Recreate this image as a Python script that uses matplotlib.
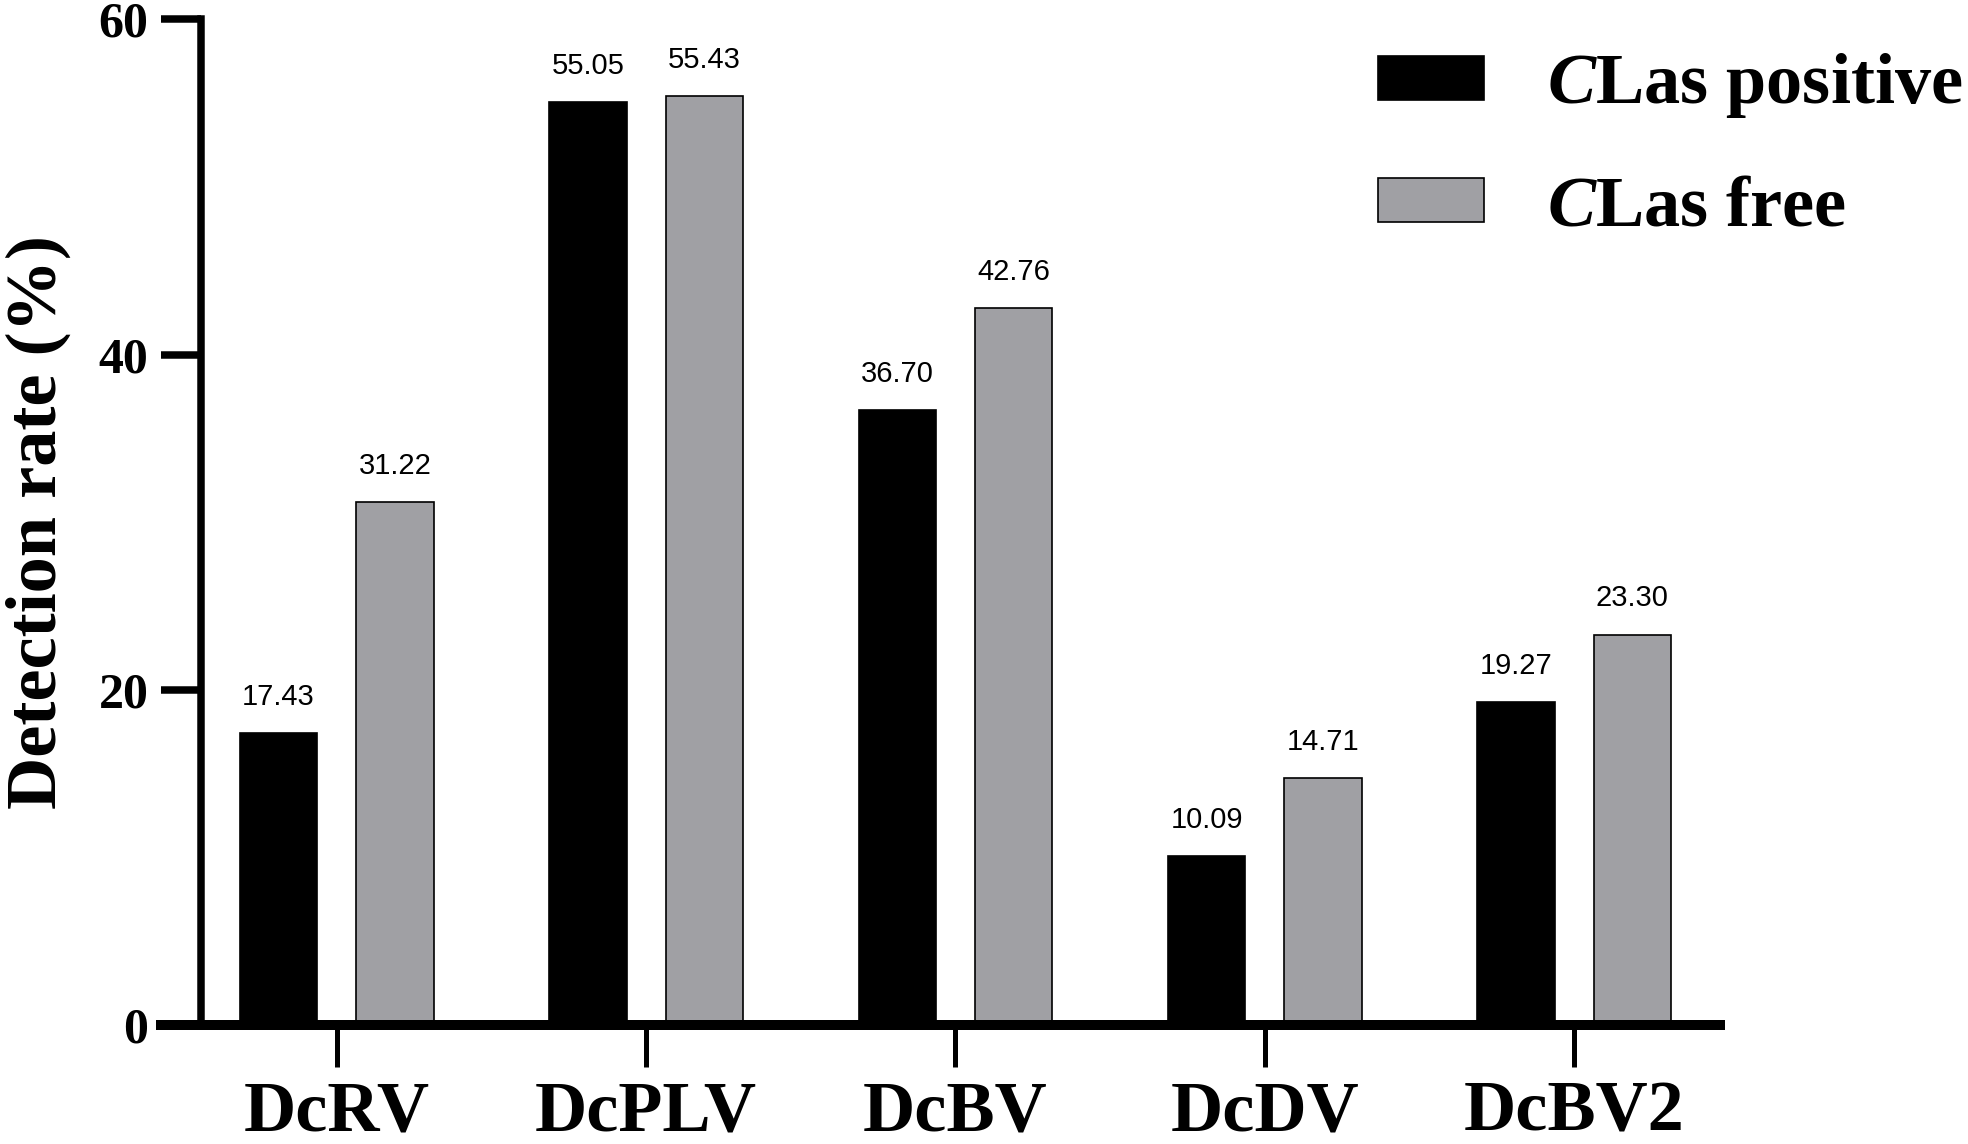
import matplotlib
matplotlib.use('Agg')
import matplotlib.pyplot as plt
import numpy as np

categories = ['DcRV', 'DcPLV', 'DcBV', 'DcDV', 'DcBV2']
positive = [17.43, 55.05, 36.70, 10.09, 19.27]
free = [31.22, 55.43, 42.76, 14.71, 23.30]
series_names = [r'$\mathbfit{C}$Las positive', r'$\mathbfit{C}$Las free']
yticks = [0, 20, 40, 60]

plt.rcParams['font.family'] = ['Liberation Serif', 'DejaVu Serif']
plt.rcParams['mathtext.fontset'] = 'custom'
plt.rcParams['mathtext.rm'] = 'Liberation Serif:bold'
plt.rcParams['mathtext.bfit'] = 'Liberation Serif:italic:bold'
plt.rcParams['mathtext.it'] = 'Liberation Serif:italic:bold'

black = '#000000'
gray = '#a0a0a4'
barWidth = 0.25
offset = 0.188

fig = plt.figure(figsize=(19.68, 11.44), dpi=100)
ax = fig.add_axes([0.0818, 0.104, 0.7920, 0.879])

x = np.arange(len(categories))
b1 = ax.bar(x - offset, positive, barWidth, color=black, edgecolor=black, linewidth=1.2,
            label=series_names[0])
b2 = ax.bar(x + offset, free, barWidth, color=gray, edgecolor=black, linewidth=1.2,
            label=series_names[1])

for bars, vals in ((b1, positive), (b2, free)):
    for rect, v in zip(bars, vals):
        ax.annotate('{:.2f}'.format(v), (rect.get_x() + rect.get_width() / 2, v),
                    xytext=(0, 16), textcoords='offset points', ha='center', va='bottom',
                    fontsize=21, family='Liberation Sans')

ax.set_xlim(-0.568, 4.47)
ax.set_ylim(0, 60)

ax.spines['top'].set_visible(False)
ax.spines['right'].set_visible(False)
ax.spines['left'].set_position(('axes', 0.0257))
ax.spines['left'].set_linewidth(5.4)
ax.spines['bottom'].set_linewidth(7.2)
ax.spines['left'].set_capstyle('projecting')

ax.set_yticks(yticks)
ax.set_yticklabels([str(t) for t in yticks], fontsize=36, fontweight='bold')
ax.tick_params(axis='y', length=29, width=5.4, pad=9)

ax.set_xticks(x)
ax.set_xticklabels(categories, fontsize=52, fontweight='bold')
ax.tick_params(axis='x', length=30, width=3.6, pad=10)

ax.set_ylabel('Detection rate (%)', fontsize=52, fontweight='bold', labelpad=20)

leg = ax.legend(loc='upper left', bbox_to_anchor=(0.700, 0.955), bbox_transform=fig.transFigure,
                frameon=False, prop={'family': 'Liberation Serif', 'weight': 'bold', 'size': 52},
                handlelength=1.48, handleheight=0.55,
                handletextpad=0.87, labelspacing=0.76, borderpad=0, borderaxespad=0)

fig.savefig('out.png', dpi=100)
